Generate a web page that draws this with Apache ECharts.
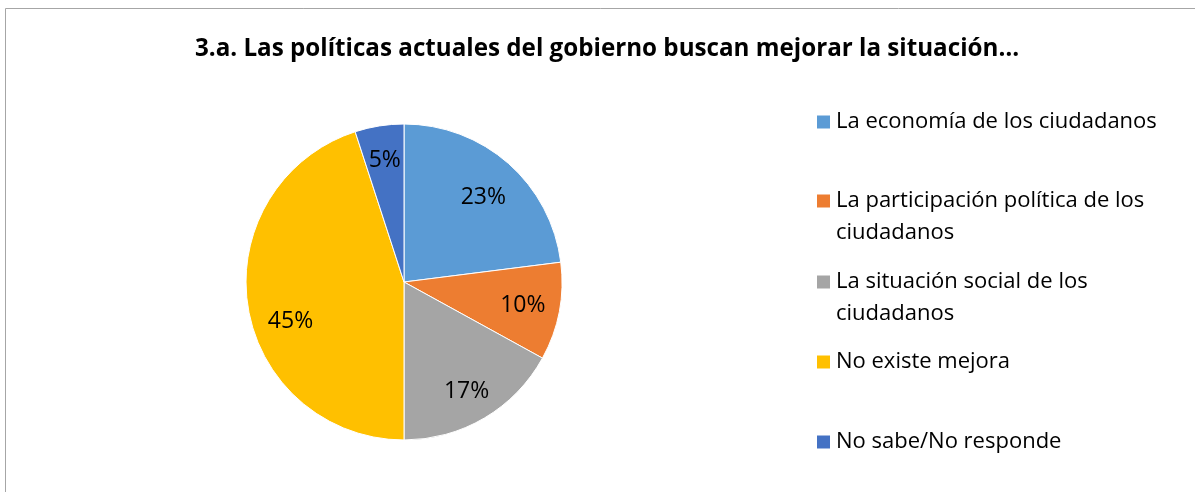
<!DOCTYPE html>
<html>
<head>
<meta charset="utf-8">
<script src="https://cdn.jsdelivr.net/npm/echarts@6/dist/echarts.min.js"></script>
<style>
	html, body { margin: 0; padding: 0; background: #fff; }
	#main { width: 1195px; height: 492px; }
</style>
</head>
<body>
<div id="main"></div>
<script>
var categories = ['La economía de los ciudadanos', 'La participación política de los ciudadanos',
	'La situación social de los ciudadanos', 'No existe mejora', 'No sabe/No responde'];
var values = [23, 10, 17, 45, 5];
var colors = ['#5B9BD5', '#ED7D31', '#A5A5A5', '#FFC000', '#4472C4'];
var legendTops = [101, 180, 261, 341, 421];
var wrapped = [false, true, true, false, false];

var font = '"Open Sans", "Liberation Sans", sans-serif';

function getPieData() {
	var data = new Array();
	for(var i = 0; i < categories.length; i++) {
		data[i] = {
			name: categories[i],
			value: values[i],
			itemStyle: { color: colors[i] }
		};
	}
	return data;
}

function getLegends() {
	var legends = new Array();
	for(var i = 0; i < categories.length; i++) {
		// wrapped items: square sits on the first line, so the icon box is stretched
		// down one line with an invisible speck at the bottom
		legends[i] = {
			data: [categories[i]],
			left: 810,
			top: legendTops[i],
			icon: wrapped[i] ? 'path://M0,0h15v15h-15z M14.99,46.99h0.01v0.01h-0.01z' : 'rect',
			itemWidth: 15,
			itemHeight: wrapped[i] ? 47 : 15,
			selectedMode: false,
			textStyle: {
				fontFamily: font,
				fontSize: 22,
				color: '#000',
				width: wrapped[i] ? 340 : 400,
				overflow: 'break',
				lineHeight: 32
			}
		};
	}
	return legends;
}

// nudges so the percent labels sit where the original put them
var labelShift = [[-2, 8], [-2, 0], [0, 4], [8, 20], [0, 0]];

var mychart = echarts.init(document.getElementById('main'));
var option = {
	backgroundColor: '#fff',
	animation: false,
	title: {
		text: '3.a. Las políticas actuales del gobierno buscan mejorar la situación…',
		left: 602,
		textAlign: 'center',
		top: 32,
		textStyle: {
			fontFamily: font,
			fontSize: 24.2,
			fontWeight: 'bold',
			color: '#000'
		}
	},
	graphic: [{
		type: 'rect',
		shape: { x: 5.5, y: 8.5, width: 1300, height: 600 },
		style: { fill: 'none', stroke: '#a6a6a6', lineWidth: 1 },
		silent: true
	}],
	legend: getLegends(),
	series: [{
		name: 'pie',
		type: 'pie',
		center: [404, 282],
		radius: 158,
		startAngle: 90,
		clockwise: true,
		label: { show: false },
		labelLine: { show: false },
		itemStyle: { borderColor: '#fff', borderWidth: 1 },
		emphasis: { disabled: true },
		data: getPieData()
	}, {
		// transparent ring used only to place the percentage labels
		name: 'labels',
		type: 'pie',
		center: [404, 282],
		radius: [82, 158],
		startAngle: 90,
		clockwise: true,
		silent: true,
		legendHoverLink: false,
		label: {
			show: true,
			position: 'inside',
			formatter: '{c}%',
			fontFamily: font,
			fontSize: 23,
			color: '#000'
		},
		labelLayout: function(params) {
			return { dx: labelShift[params.dataIndex][0], dy: labelShift[params.dataIndex][1] };
		},
		labelLine: { show: false },
		emphasis: { disabled: true },
		data: getPieData().map(function(d) {
			return { name: d.name, value: d.value, itemStyle: { color: 'rgba(0,0,0,0)' } };
		})
	}]
};
mychart.setOption(option);
</script>
</body>
</html>
